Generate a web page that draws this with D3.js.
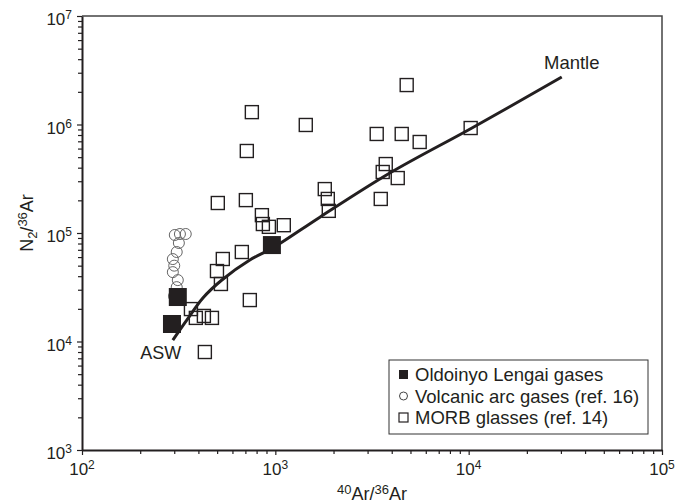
<!DOCTYPE html>
<html>
<head>
<meta charset="utf-8">
<script src="https://cdn.jsdelivr.net/npm/d3@7"></script>
<style>
  body { margin: 0; background: #fff; }
  text { font-family: "Liberation Sans", Arial, Helvetica, sans-serif; fill: #231f20; }
</style>
</head>
<body>
<script>
// size of the picture
let width = 688;
let height = 504;

let margin = { top: 16, right: 26, bottom: 54, left: 82 };

// MORB glasses (ref. 14)
let morbX = [756, 1437, 712, 504, 704, 1802, 1868, 1890, 852, 862, 926, 1106,
  671, 535, 499, 523, 738, 366, 388, 427, 470, 432,
  4780, 3345, 4505, 5580, 3725, 3593, 4297, 3510, 10240];
let morbY = [1.30e6, 9.9e5, 5.7e5, 1.89e5, 2.01e5, 2.54e5, 2.06e5, 1.60e5, 1.46e5, 1.21e5, 1.14e5, 1.18e5,
  66800, 57600, 44600, 33900, 24100, 19900, 16500, 17200, 16500, 8000,
  2.31e6, 8.18e5, 8.18e5, 6.9e5, 4.32e5, 3.65e5, 3.21e5, 2.06e5, 9.28e5];

// Volcanic arc gases (ref. 16)
let arcX = [302, 321, 344, 317, 309, 295, 300, 295, 313, 309, 299];
let arcY = [95900, 97900, 97900, 80900, 66800, 57500, 50000, 43600, 36800, 31700, 26200];

// Oldoinyo Lengai gases
let lengaiX = [313, 292, 960];
let lengaiY = [25700, 14500, 77400];

// ASW - mantle mixing line
let mantleX = [295, 349, 422, 529, 738, 970, 1700, 3910, 10400, 30300];
let mantleY = [10300, 15800, 25200, 36900, 56400, 72800, 140000, 357000, 929000, 2740000];

let legendLabels = ['Oldoinyo Lengai gases', 'Volcanic arc gases (ref. 16)', 'MORB glasses (ref. 14)'];

let ink = '#231f20';

let x = d3.scaleLog()
  .domain([1e2, 1e5])
  .range([margin.left, width - margin.right]);

let y = d3.scaleLog()
  .domain([1e3, 1e7])
  .range([height - margin.bottom, margin.top]);

let svg = d3.select('body')
  .append('svg')
  .attr('width', width)
  .attr('height', height);

// tick values: every 1..9 times a power of ten
function logTicks(lo, hi) {
  let out = [];
  for (let e = lo; e < hi; e++) {
    for (let m = 1; m < 10; m++) out.push(m * Math.pow(10, e));
  }
  out.push(Math.pow(10, hi));
  return out;
}
let isMajor = v => Math.abs(Math.log10(v) - Math.round(Math.log10(v))) < 1e-9;

// frame: top and right lines
svg.append('path')
  .attr('d', `M${x(1e2)},${y(1e7)}H${x(1e5)}V${y(1e3)}`)
  .attr('fill', 'none')
  .attr('stroke', '#444')
  .attr('stroke-width', 1.5);

let xAxis = g => g
  .attr('transform', `translate(0,${y(1e3)})`)
  .call(d3.axisBottom(x).tickValues(logTicks(2, 5)).tickFormat('').tickSizeOuter(0))
  .call(g => g.select('.domain').attr('stroke', ink).attr('stroke-width', 2))
  .call(g => g.selectAll('.tick line')
    .attr('stroke', ink).attr('stroke-width', 1.2)
    .attr('y2', d => isMajor(d) ? 5 : 4));

let yAxis = g => g
  .attr('transform', `translate(${x(1e2)},0)`)
  .call(d3.axisLeft(y).tickValues(logTicks(3, 7)).tickFormat('').tickSizeOuter(0))
  .call(g => g.select('.domain').attr('stroke', ink).attr('stroke-width', 2))
  .call(g => g.selectAll('.tick line')
    .attr('stroke', ink).attr('stroke-width', 1.2)
    .attr('x2', d => isMajor(d) ? -5 : -4));

svg.append('g').attr('class', 'x-axis').call(xAxis);
svg.append('g').attr('class', 'y-axis').call(yAxis);

// power-of-ten labels
function powLabel(sel, e) {
  sel.append('tspan').text('10');
  sel.append('tspan').attr('font-size', '12px').attr('dy', '-6').text(e);
}

[2, 3, 4, 5].forEach(e => {
  svg.append('text')
    .attr('x', x(Math.pow(10, e)))
    .attr('y', y(1e3) + 25)
    .attr('text-anchor', 'middle')
    .attr('font-size', '17px')
    .call(powLabel, e);
});

[3, 4, 5, 6, 7].forEach(e => {
  svg.append('text')
    .attr('x', x(1e2) - 10)
    .attr('y', y(Math.pow(10, e)) + 9)
    .attr('text-anchor', 'end')
    .attr('font-size', '17px')
    .call(powLabel, e);
});

// axis titles
let xt = svg.append('text')
  .attr('x', (x(1e2) + x(1e5)) / 2)
  .attr('y', 500)
  .attr('text-anchor', 'middle')
  .attr('font-size', '18px');
xt.append('tspan').attr('font-size', '13px').attr('dy', '-6').text('40');
xt.append('tspan').attr('dy', '6').text('Ar/');
xt.append('tspan').attr('font-size', '13px').attr('dy', '-6').text('36');
xt.append('tspan').attr('dy', '6').text('Ar');

let yt = svg.append('text')
  .attr('transform', `translate(33,${(y(1e3) + y(1e7)) / 2 - 10}) rotate(-90)`)
  .attr('text-anchor', 'middle')
  .attr('font-size', '18px');
yt.append('tspan').text('N');
yt.append('tspan').attr('font-size', '13px').attr('dy', '4').text('2');
yt.append('tspan').attr('dy', '-4').text('/');
yt.append('tspan').attr('font-size', '13px').attr('dy', '-6').text('36');
yt.append('tspan').attr('dy', '6').text('Ar');

// mixing line
let mantle = mantleX.map((v, i) => ({ x: v, y: mantleY[i] }));
let line = d3.line()
  .x(d => x(d.x))
  .y(d => y(d.y))
  .curve(d3.curveCatmullRom);

svg.append('path')
  .datum(mantle)
  .attr('fill', 'none')
  .attr('stroke', ink)
  .attr('stroke-width', 3)
  .attr('d', line);

svg.append('text')
  .attr('x', x(mantleX[0]) - 12)
  .attr('y', y(mantleY[0]) + 19)
  .attr('text-anchor', 'middle')
  .attr('font-size', '18px')
  .text('ASW');

svg.append('text')
  .attr('x', x(mantleX[mantleX.length - 1]) + 10)
  .attr('y', y(mantleY[mantleY.length - 1]) - 8)
  .attr('text-anchor', 'middle')
  .attr('font-size', '18.5px')
  .text('Mantle');

// arc gases
let arc = arcX.map((v, i) => ({ x: v, y: arcY[i] }));
svg.append('g')
  .selectAll('circle')
  .data(arc)
  .join('circle')
  .attr('cx', d => x(d.x))
  .attr('cy', d => y(d.y))
  .attr('r', 5.5)
  .attr('fill', 'none')
  .attr('stroke', '#666')
  .attr('stroke-width', 1);

// MORB glasses
let morb = morbX.map((v, i) => ({ x: v, y: morbY[i] }));
let s = 13;
svg.append('g')
  .selectAll('rect')
  .data(morb)
  .join('rect')
  .attr('x', d => x(d.x) - s / 2)
  .attr('y', d => y(d.y) - s / 2)
  .attr('width', s)
  .attr('height', s)
  .attr('fill', 'none')
  .attr('stroke', ink)
  .attr('stroke-width', 1.4);

// Oldoinyo Lengai
let lengai = lengaiX.map((v, i) => ({ x: v, y: lengaiY[i] }));
let fs = 18;
svg.append('g')
  .selectAll('rect')
  .data(lengai)
  .join('rect')
  .attr('x', d => x(d.x) - fs / 2)
  .attr('y', d => y(d.y) - fs / 2)
  .attr('width', fs)
  .attr('height', fs)
  .attr('fill', ink);

// legend
let lg = svg.append('g').attr('transform', 'translate(389,360)');
lg.append('rect')
  .attr('width', 259)
  .attr('height', 74)
  .attr('fill', '#fff')
  .attr('stroke', '#333')
  .attr('stroke-width', 1);

lg.append('rect').attr('x', 10).attr('y', 10).attr('width', 9).attr('height', 9).attr('fill', ink);
lg.append('circle').attr('cx', 14.5).attr('cy', 36).attr('r', 4)
  .attr('fill', 'none').attr('stroke', '#444').attr('stroke-width', 1);
lg.append('rect').attr('x', 10).attr('y', 53).attr('width', 9).attr('height', 9)
  .attr('fill', 'none').attr('stroke', ink).attr('stroke-width', 1.2);

lg.selectAll('text.lab')
  .data(legendLabels)
  .join('text')
  .attr('class', 'lab')
  .attr('x', 26)
  .attr('y', (d, i) => 21 + i * 21.7)
  .attr('font-size', '18.5px')
  .text(d => d);
</script>
</body>
</html>
